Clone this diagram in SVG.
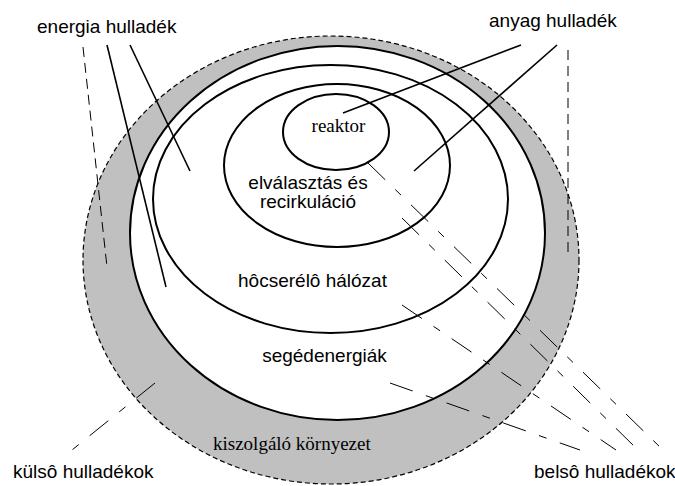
<svg xmlns="http://www.w3.org/2000/svg" width="675" height="486" viewBox="0 0 675 486">
  <style>
    .sans { font-family: "Liberation Sans", Arial, sans-serif; font-size: 19px; fill: #000; }
    .serif { font-family: "Liberation Serif", "Times New Roman", serif; font-size: 19px; fill: #000; }
    .ring { fill: #fff; stroke: #000; stroke-width: 2; }
    .solid { stroke: #000; stroke-width: 1.6; fill: none; }
    .dash { stroke: #000; stroke-width: 1; fill: none; stroke-dasharray: 10 6; }
    .dashdot { stroke: #000; stroke-width: 1; fill: none; stroke-dasharray: 24 14 8 14; }
  </style>

  <!-- service environment: grey outer band -->
  <g id="kiszolgalo-kornyezet">
    <ellipse cx="331" cy="260" rx="248" ry="224" fill="#c0c0c0" stroke="#000" stroke-width="1.2" stroke-dasharray="5 3"/>
    <text class="serif" x="213" y="450">kiszolgáló környezet</text>
  </g>

  <g id="segedenergiak">
    <ellipse class="ring" cx="337.5" cy="233" rx="207.5" ry="187"/>
    <text class="sans" x="324.5" y="362" text-anchor="middle">segédenergiák</text>
  </g>

  <g id="hocserelo-halozat">
    <ellipse class="ring" cx="330.5" cy="199" rx="177.5" ry="134"/>
    <text class="sans" x="312.5" y="287" text-anchor="middle">hôcserélô hálózat</text>
  </g>

  <g id="elvalasztas">
    <ellipse class="ring" cx="337" cy="165.5" rx="113" ry="81.5"/>
    <text class="sans" x="308" y="189" text-anchor="middle">elválasztás és</text>
    <text class="sans" x="308" y="208" text-anchor="middle">recirkuláció</text>
  </g>

  <g id="reaktor">
    <ellipse class="ring" cx="336" cy="132" rx="53" ry="38"/>
    <text class="serif" x="338.5" y="132" text-anchor="middle">reaktor</text>
  </g>

  <!-- waste labels -->
  <g id="energia-hulladek">
    <text class="sans" x="37" y="33">energia hulladék</text>
  </g>
  <g id="anyag-hulladek">
    <text class="sans" x="489" y="27">anyag hulladék</text>
  </g>
  <g id="kulso-hulladekok">
    <text class="sans" x="13" y="478">külsô hulladékok</text>
  </g>
  <g id="belso-hulladekok">
    <text class="sans" x="534" y="478">belsô hulladékok</text>
  </g>

  <g id="connectors">
    <!-- energy waste -->
    <line class="dash" x1="83" y1="47" x2="107" y2="267"/>
    <line class="solid" x1="107" y1="45" x2="166" y2="287"/>
    <line class="solid" x1="130" y1="45" x2="190" y2="171"/>
    <!-- material waste -->
    <line class="solid" x1="521" y1="45" x2="343" y2="113"/>
    <line class="solid" x1="557" y1="45" x2="414" y2="171"/>
    <line class="dash" x1="568" y1="50" x2="568" y2="257"/>
    <!-- external waste -->
    <line class="dashdot" x1="155" y1="383" x2="72" y2="450"/>
    <!-- internal waste -->
    <line class="dashdot" x1="368" y1="163" x2="663" y2="450"/>
    <line class="dashdot" x1="402" y1="218" x2="638" y2="450"/>
    <line class="dashdot" x1="402" y1="305" x2="616" y2="450"/>
    <line class="dashdot" x1="390" y1="383" x2="580" y2="450"/>
  </g>
</svg>
